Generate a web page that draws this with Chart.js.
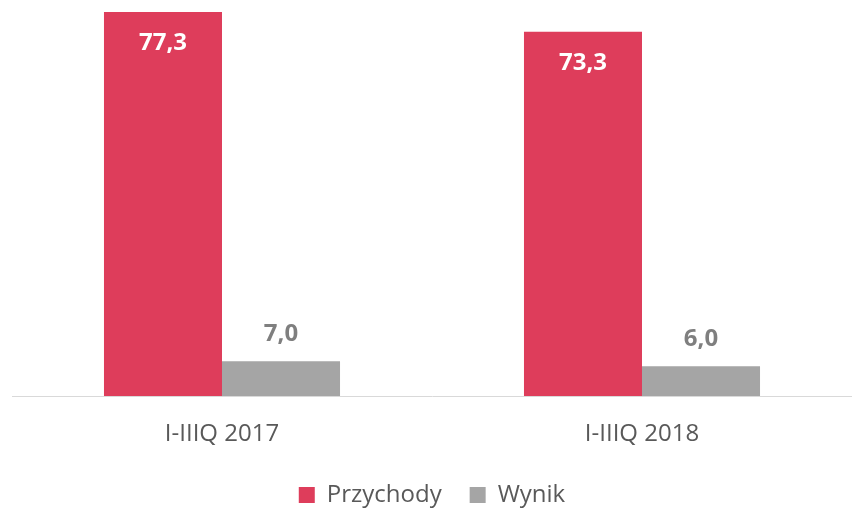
<!DOCTYPE html>
<html>
<head>
<meta charset="utf-8">
<script src="https://cdn.jsdelivr.net/npm/chart.js@4.4.3/dist/chart.umd.min.js"></script>
<style>
  html, body { margin: 0; padding: 0; background: #fff; }
  #wrap { width: 852px; height: 508px; position: relative; }
</style>
</head>
<body>
<div id="wrap"><canvas id="chart"></canvas></div>
<script>
/* Przychody vs Wynik, I-IIIQ 2017 / 2018 */
const categories = ['I-IIIQ 2017', 'I-IIIQ 2018'];
const seriesNames = ['Przychody', 'Wynik'];
const przychody = [77.3, 73.3];
const wynik = [7.0, 6.0];

const RED = '#DE3D5B';
const GRAY = '#A5A5A5';
const FONT = '"Open Sans", "Liberation Sans", sans-serif';

const fmt = v => v.toFixed(1).replace('.', ',');

// value labels: white inside the red bars, gray above the gray ones
const valueLabels = {
  id: 'valueLabels',
  afterDatasetsDraw(chart) {
    const ctx = chart.ctx;
    ctx.save();
    ctx.font = 'bold 24px ' + FONT;
    ctx.textAlign = 'center';
    ctx.textBaseline = 'middle';
    chart.data.datasets.forEach((ds, di) => {
      chart.getDatasetMeta(di).data.forEach((bar, i) => {
        const v = ds.data[i];
        if (di === 0) {
          ctx.fillStyle = '#FFFFFF';
          ctx.fillText(fmt(v), bar.x, bar.y + 31);
        } else {
          ctx.fillStyle = '#7F7F7F';
          ctx.fillText(fmt(v), bar.x, bar.y - 27);
        }
      });
    });
    ctx.restore();
  }
};

new Chart(document.getElementById('chart'), {
  type: 'bar',
  data: {
    labels: categories,
    datasets: [
      { label: seriesNames[0], data: przychody, backgroundColor: RED },
      { label: seriesNames[1], data: wynik, backgroundColor: GRAY }
    ]
  },
  options: {
    responsive: true,
    maintainAspectRatio: false,
    animation: false,
    layout: { padding: { left: 12, right: 0, top: 1, bottom: -9 } },
    datasets: { bar: { barPercentage: 1, categoryPercentage: 0.562 } },
    scales: {
      x: {
        grid: { display: false, drawTicks: false },
        border: { display: true, color: '#D9D9D9', width: 1 },
        ticks: { color: '#595959', font: { family: FONT, size: 24 }, padding: 24 },
        afterFit(scale) { scale.height = 59; }
      },
      y: { display: false, min: 0, max: 79.5 }
    },
    plugins: {
      legend: {
        position: 'bottom',
        labels: {
          color: '#595959',
          font: { family: FONT, size: 24 },
          boxWidth: 16, boxHeight: 16, padding: 28
        }
      },
      tooltip: { enabled: false }
    }
  },
  plugins: [valueLabels]
});
</script>
</body>
</html>
